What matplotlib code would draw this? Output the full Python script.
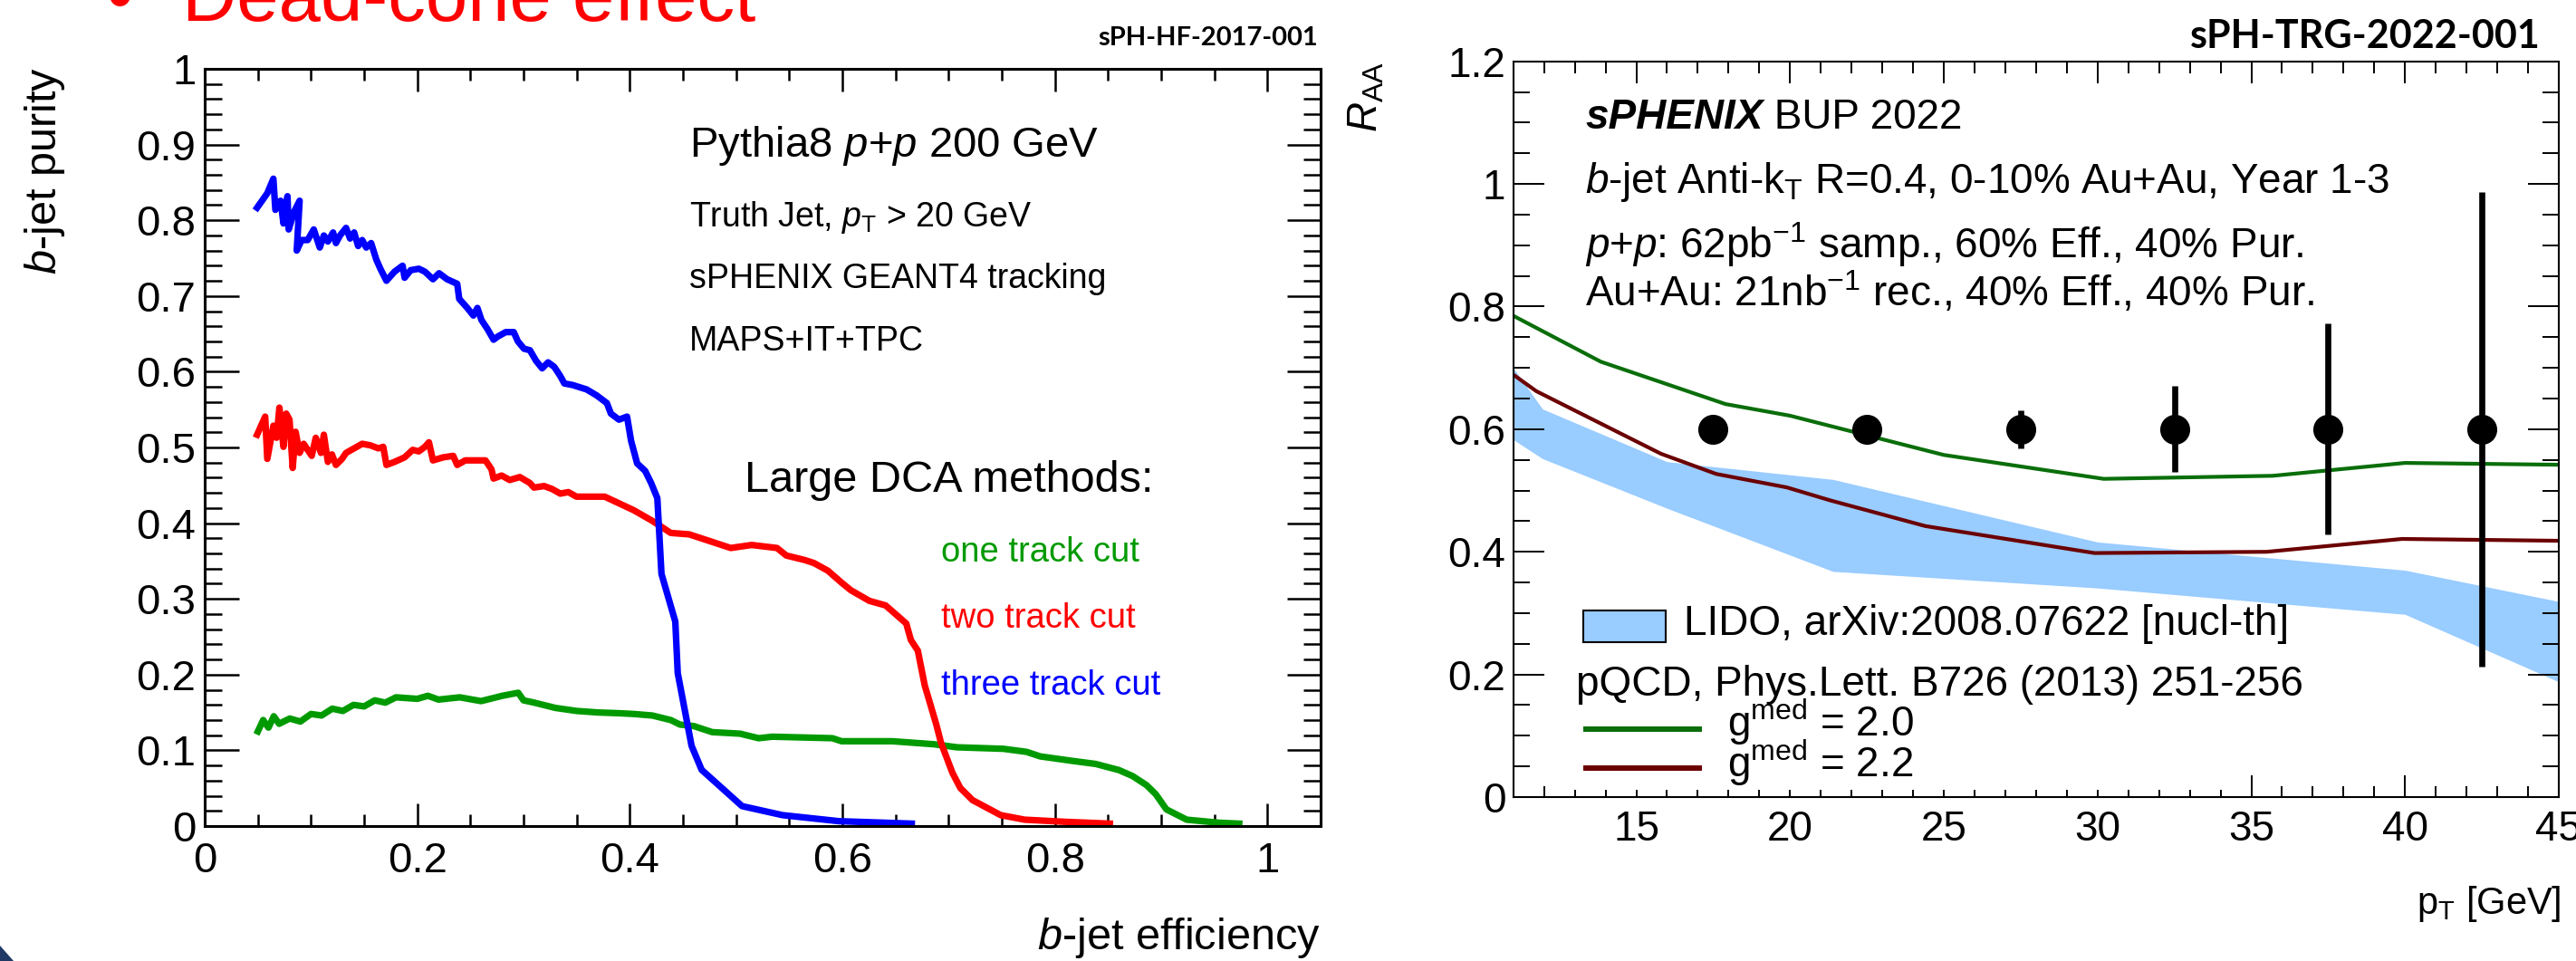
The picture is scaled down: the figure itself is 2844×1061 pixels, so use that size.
import matplotlib
matplotlib.use('Agg')
import matplotlib.pyplot as plt
from matplotlib.patches import Rectangle, Polygon
from matplotlib.ticker import MultipleLocator, FuncFormatter

plt.rcParams['font.family'] = ['Liberation Sans', 'DejaVu Sans']
plt.rcParams['mathtext.fontset'] = 'custom'
plt.rcParams['mathtext.rm'] = 'Liberation Sans'
plt.rcParams['mathtext.it'] = 'Liberation Sans:italic'
plt.rcParams['mathtext.bf'] = 'Liberation Sans:bold'

# ---------------- data: left panel (b-jet efficiency vs purity) ----------------
blue_eff = [0.0493, 0.0589, 0.0646, 0.0665, 0.0714, 0.0741, 0.0779, 0.0790, 0.0843, 0.0893,
            0.0866, 0.0912, 0.0969, 0.1026, 0.1083, 0.1121, 0.1159, 0.1208, 0.1235, 0.1273,
            0.1330, 0.1368, 0.1406, 0.1444, 0.1482, 0.1520, 0.1566, 0.1615, 0.1653, 0.1710,
            0.1786, 0.1862, 0.1881, 0.1938, 0.2015, 0.2072, 0.2148, 0.2205, 0.2281, 0.2376,
            0.2395, 0.2471, 0.2528, 0.2566, 0.2604, 0.2661, 0.2718, 0.2756, 0.2832, 0.2908,
            0.2946, 0.3004, 0.3060, 0.3118, 0.3175, 0.3231, 0.3289, 0.3345, 0.3384, 0.3460,
            0.3594, 0.3689, 0.3784, 0.3822, 0.3898, 0.3974, 0.4012, 0.4069, 0.4145, 0.4201,
            0.4259, 0.4298, 0.4428, 0.4451, 0.4581, 0.4676, 0.5056, 0.5437, 0.5969, 0.6653]
blue_pur = [0.8166, 0.8357, 0.8549, 0.8138, 0.8258, 0.7958, 0.8318, 0.7879, 0.8118, 0.8258,
            0.7600, 0.7739, 0.7739, 0.7879, 0.7640, 0.7799, 0.7719, 0.7839, 0.7699, 0.7799,
            0.7899, 0.7759, 0.7839, 0.7660, 0.7739, 0.7640, 0.7699, 0.7480, 0.7360, 0.7201,
            0.7321, 0.7400, 0.7241, 0.7341, 0.7360, 0.7321, 0.7221, 0.7301, 0.7221, 0.7161,
            0.6962, 0.6842, 0.6742, 0.6842, 0.6683, 0.6563, 0.6423, 0.6463, 0.6523, 0.6523,
            0.6403, 0.6304, 0.6284, 0.6144, 0.6045, 0.6124, 0.6064, 0.5945, 0.5845, 0.5825,
            0.5766, 0.5686, 0.5586, 0.5447, 0.5367, 0.5407, 0.5088, 0.4789, 0.4689, 0.4529,
            0.4330, 0.3330, 0.2700, 0.2020, 0.1060, 0.0742, 0.0263, 0.0144, 0.0064, 0.0032]

red_eff = [0.0493, 0.0569, 0.0589, 0.0646, 0.0676, 0.0703, 0.0741, 0.0767, 0.0798, 0.0828,
           0.0855, 0.0893, 0.0931, 0.0969, 0.1007, 0.1045, 0.1094, 0.1121, 0.1159, 0.1197,
           0.1235, 0.1292, 0.1330, 0.1406, 0.1482, 0.1558, 0.1634, 0.1680, 0.1710, 0.1786,
           0.1881, 0.1957, 0.2015, 0.2072, 0.2110, 0.2148, 0.2243, 0.2338, 0.2376, 0.2452,
           0.2547, 0.2642, 0.2699, 0.2718, 0.2794, 0.2870, 0.2965, 0.3060, 0.3098, 0.3194,
           0.3270, 0.3346, 0.3422, 0.3498, 0.3764, 0.4037, 0.4211, 0.4298, 0.4385, 0.4559,
           0.4733, 0.4950, 0.5146, 0.5385, 0.5472, 0.5646, 0.5733, 0.5863, 0.5993, 0.6080,
           0.6254, 0.6406, 0.6471, 0.6601, 0.6645, 0.6710, 0.6775, 0.6884, 0.6928, 0.7036,
           0.7110, 0.7224, 0.7490, 0.7715, 0.8095, 0.8517]
red_pur = [0.5168, 0.5407, 0.4849, 0.5287, 0.5128, 0.5526, 0.5008, 0.5447, 0.5367, 0.4729,
           0.5207, 0.4928, 0.5048, 0.4968, 0.4889, 0.5128, 0.4928, 0.5168, 0.4809, 0.4908,
           0.4769, 0.4849, 0.4928, 0.4988, 0.5048, 0.5028, 0.4988, 0.5008, 0.4769, 0.4809,
           0.4869, 0.4968, 0.4948, 0.5008, 0.5068, 0.4829, 0.4869, 0.4889, 0.4769, 0.4829,
           0.4829, 0.4829, 0.4709, 0.4589, 0.4629, 0.4570, 0.4609, 0.4530, 0.4470, 0.4490,
           0.4450, 0.4390, 0.4410, 0.4350, 0.4350, 0.4171, 0.4031, 0.3951, 0.3871, 0.3852,
           0.3772, 0.3672, 0.3712, 0.3672, 0.3573, 0.3513, 0.3473, 0.3373, 0.3214, 0.3114,
           0.2974, 0.2914, 0.2835, 0.2675, 0.2456, 0.2317, 0.1858, 0.1340, 0.1100, 0.0702,
           0.0502, 0.0343, 0.0144, 0.0084, 0.0056, 0.0032]

green_eff = [0.050, 0.055, 0.060, 0.065, 0.070, 0.080, 0.090, 0.100, 0.110, 0.120,
             0.130, 0.140, 0.150, 0.160, 0.170, 0.180, 0.200, 0.210, 0.220, 0.240,
             0.260, 0.280, 0.295, 0.300, 0.310, 0.330, 0.350, 0.370, 0.390, 0.4037,
             0.4211, 0.4385, 0.4472, 0.4602, 0.4776, 0.5037, 0.5212, 0.5342, 0.5906, 0.5993,
             0.6471, 0.6862, 0.7080, 0.7515, 0.7732, 0.7862, 0.8166, 0.8384, 0.8601, 0.8731,
             0.8862, 0.8949, 0.9049, 0.9240, 0.9544, 0.9734]
green_pur = [0.125, 0.140, 0.130, 0.145, 0.135, 0.142, 0.138, 0.148, 0.146, 0.155,
             0.152, 0.160, 0.158, 0.166, 0.163, 0.170, 0.168, 0.172, 0.167, 0.170,
             0.165, 0.172, 0.176, 0.166, 0.163, 0.156, 0.152, 0.150, 0.149, 0.148,
             0.146, 0.140, 0.134, 0.132, 0.124, 0.122, 0.116, 0.118, 0.116, 0.112,
             0.112, 0.108, 0.104, 0.102, 0.098, 0.092, 0.086, 0.082, 0.074, 0.066,
             0.054, 0.042, 0.022, 0.0084, 0.0044, 0.0032]

left_xticks = [0, 0.2, 0.4, 0.6, 0.8, 1]
left_yticks = [0, 0.1, 0.2, 0.3, 0.4, 0.5, 0.6, 0.7, 0.8, 0.9, 1]

# ---------------- data: right panel (R_AA vs pT) ----------------
pt_points = [17.5, 22.5, 27.5, 32.5, 37.5, 42.5]
raa_points = [0.6, 0.6, 0.6, 0.6, 0.6, 0.6]
raa_errors = [0.008, 0.008, 0.031, 0.070, 0.172, 0.387]

g20_pt = [11, 13.85, 17.9, 20, 25, 30.2, 35.7, 40, 45]
g20_raa = [0.785, 0.710, 0.641, 0.622, 0.558, 0.519, 0.524, 0.545, 0.542]

g22_pt = [11, 11.75, 15.8, 17.6, 19.9, 21.3, 24.4, 29.9, 35.5, 39.9, 45]
g22_raa = [0.689, 0.662, 0.560, 0.527, 0.505, 0.484, 0.442, 0.398, 0.400, 0.421, 0.418]

lido_pt = [11, 11.95, 16, 21.4, 30, 40, 45]
lido_low = [0.583, 0.552, 0.471, 0.368, 0.341, 0.298, 0.188]
lido_high = [0.700, 0.633, 0.547, 0.518, 0.416, 0.370, 0.319]

right_xticks = [15, 20, 25, 30, 35, 40, 45]
right_yticks = [0, 0.2, 0.4, 0.6, 0.8, 1, 1.2]

# ---------------- figure ----------------
W, H = 2844, 1061
fig = plt.figure(figsize=(W / 100, H / 100), dpi=100)
fig.patch.set_facecolor('white')


def fx(px):
    return px / W


def fy(py):
    return 1 - py / H


fmt = FuncFormatter(lambda v, p: f"{v:g}")
GREEN = '#009a00'

# ---------- left panel ----------
ax1 = fig.add_axes([fx(226), fy(912), (1458 - 226) / W, (912 - 76) / H])
ax1.plot(green_eff, green_pur, color=GREEN, lw=5.2)
ax1.plot(red_eff, red_pur, color='#ff0000', lw=5.2)
ax1.plot(blue_eff, blue_pur, color='#0000ff', lw=5.2)
ax1.set_xlim(0, 1.05)
ax1.set_ylim(0, 1)
ax1.set_xticks(left_xticks)
ax1.set_yticks(left_yticks)
ax1.xaxis.set_minor_locator(MultipleLocator(0.05))
ax1.yaxis.set_minor_locator(MultipleLocator(0.02))
ax1.xaxis.set_major_formatter(fmt)
ax1.yaxis.set_major_formatter(fmt)
ax1.tick_params(which='both', direction='in', top=True, right=True, width=1.8)
ax1.tick_params(axis='x', which='major', length=18, labelsize=34, pad=12)
ax1.tick_params(axis='x', which='minor', length=9.4)
ax1.tick_params(axis='y', which='major', length=27, labelsize=34, pad=7)
ax1.tick_params(axis='y', which='minor', length=14)
for s in ax1.spines.values():
    s.set_linewidth(2.2)

ax1.text(0.456, 0.8836, "Pythia8 $p$+$p$ 200 GeV", fontsize=34, va='baseline')
ax1.text(0.456, 0.792, r"Truth Jet, $p_{\mathrm{T}}$ > 20 GeV", fontsize=27, va='baseline')
ax1.text(0.456, 0.710, "sPHENIX GEANT4 tracking", fontsize=27, va='baseline')
ax1.text(0.456, 0.6276, "MAPS+IT+TPC", fontsize=27, va='baseline')
ax1.text(0.508, 0.441, "Large DCA methods:", fontsize=35, va='baseline')
ax1.text(0.6928, 0.349, "one track cut", fontsize=27.5, color=GREEN, va='baseline')
ax1.text(0.6928, 0.2616, "two track cut", fontsize=27.5, color='#ff0000', va='baseline')
ax1.text(0.6928, 0.1738, "three track cut", fontsize=27.5, color='#0000ff', va='baseline')

fig.text(fx(50), fy(74), "$b$-jet purity", rotation=90, ha='center', va='top', fontsize=35)
fig.text(fx(1458), fy(1048), "$b$-jet efficiency", ha='right', va='baseline', fontsize=35)
fig.text(fx(1455), fy(50), "sPH-HF-2017-001", ha='right', va='baseline', fontsize=21,
         fontweight='bold', family=['Lato', 'DejaVu Sans'])
fig.text(fx(201), fy(23), "Dead-cone effect", color='#ff0000', fontsize=60, va='baseline')
fig.text(fx(118), fy(23), "\u2022", color='#ff0000', fontsize=60, va='baseline')
fig.patches.append(Polygon([[0, fy(1044)], [0, 0], [fx(15), 0]], closed=True,
                           transform=fig.transFigure, facecolor='#1f3864', edgecolor='none'))

# ---------- right panel ----------
ax2 = fig.add_axes([fx(1670.7), fy(880), (2825 - 1670.7) / W, (880 - 67.7) / H])
ax2.fill_between(lido_pt, lido_low, lido_high, color='#99ccff', lw=0, zorder=1)
ax2.plot(g20_pt, g20_raa, color='#0a6e0a', lw=3, zorder=2)
ax2.plot(g22_pt, g22_raa, color='#6b0000', lw=3, zorder=2)
ax2.errorbar(pt_points, raa_points, yerr=raa_errors, fmt='o', color='black', ms=22.8,
             elinewidth=4.8, capsize=0, zorder=5)
ax2.set_xlim(11, 45)
ax2.set_ylim(0, 1.2)
ax2.set_xticks(right_xticks)
ax2.set_yticks(right_yticks)
ax2.xaxis.set_minor_locator(MultipleLocator(1))
ax2.yaxis.set_minor_locator(MultipleLocator(0.05))
ax2.xaxis.set_major_formatter(fmt)
ax2.yaxis.set_major_formatter(fmt)
ax2.tick_params(which='both', direction='in', top=True, right=True, width=1.4)
ax2.tick_params(axis='x', which='major', length=17, labelsize=33, pad=10)
ax2.tick_params(axis='x', which='minor', length=9)
ax2.tick_params(axis='y', which='major', length=24.5, labelsize=33, pad=6)
ax2.tick_params(axis='y', which='minor', length=12.7)
for s in ax2.spines.values():
    s.set_linewidth(1.5)

# header text
t1 = ax2.text(0.0688, 0.8965, "sPHENIX", transform=ax2.transAxes, fontsize=33,
              fontweight='bold', fontstyle='italic', va='bottom')
ax2.annotate(" BUP 2022", xy=(1, 0), xycoords=t1, fontsize=33, va='bottom', ha='left')
ax2.text(0.0688, 0.8208, r"$b$-jet Anti-k$_{\mathrm{T}}$ R=0.4, 0-10% Au+Au, Year 1-3",
         transform=ax2.transAxes, fontsize=33, va='baseline')
ax2.text(0.0688, 0.7325, r"$p$+$p$: 62pb$^{-1}$ samp., 60% Eff., 40% Pur.",
         transform=ax2.transAxes, fontsize=33, va='baseline')
ax2.text(0.0688, 0.6667, r"Au+Au: 21nb$^{-1}$ rec., 40% Eff., 40% Pur.",
         transform=ax2.transAxes, fontsize=33, va='baseline')

# legend (white box covering ticks, as in ROOT)
ax2.add_patch(Rectangle((0.038, 0.010), 0.653, 0.248, transform=ax2.transAxes,
                        facecolor='white', edgecolor='none', zorder=3))
ax2.add_patch(Rectangle((0.0674, 0.2103), 0.0782, 0.0438, transform=ax2.transAxes,
                        facecolor='#99ccff', edgecolor='black', lw=1.5, zorder=4))
ax2.text(0.1629, 0.2201, "LIDO, arXiv:2008.07622 [nucl-th]", transform=ax2.transAxes,
         fontsize=33, va='baseline', zorder=6)
ax2.text(0.0603, 0.1373, "pQCD, Phys.Lett. B726 (2013) 251-256", transform=ax2.transAxes,
         fontsize=33, va='baseline', zorder=6)
ax2.plot([0.0674, 0.1803], [0.0927, 0.0927], transform=ax2.transAxes, color='#0a6e0a',
         lw=4.3, zorder=6, solid_capstyle='butt')
ax2.plot([0.0674, 0.1803], [0.0388, 0.0388], transform=ax2.transAxes, color='#6b0000',
         lw=4.3, zorder=6, solid_capstyle='butt')
ax2.text(0.205, 0.0821, r"g$^{\mathrm{med}}$ = 2.0", transform=ax2.transAxes,
         fontsize=33, va='baseline', zorder=6)
ax2.text(0.205, 0.0267, r"g$^{\mathrm{med}}$ = 2.2", transform=ax2.transAxes,
         fontsize=33, va='baseline', zorder=6)

fig.text(fx(1509), fy(68), r"$R_{\mathrm{AA}}$", rotation=90, ha='center', va='top', fontsize=33)
fig.text(fx(2828), fy(1009), r"p$_{\mathrm{T}}$ [GeV]", ha='right', va='baseline', fontsize=30)
fig.text(fx(2805), fy(53), "sPH-TRG-2022-001", ha='right', va='baseline', fontsize=31,
         fontweight='bold', family=['Lato', 'DejaVu Sans'])

fig.savefig('out.png', dpi=100, facecolor='white')
